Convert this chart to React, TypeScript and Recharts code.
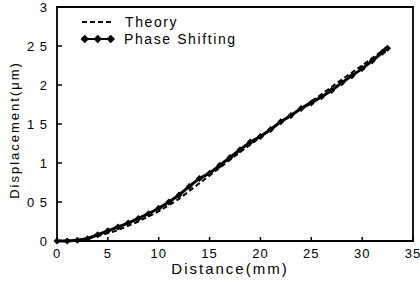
import {
  ComposedChart,
  Line,
  XAxis,
  YAxis,
  Legend,
} from 'recharts';

// distance (mm) / displacement (um)
const theoryX = [0, 2, 4, 6, 8, 10, 12, 14, 16, 18, 20, 22, 24, 26, 28, 30, 32, 32.5];
const theoryY = [0, 0.01, 0.06, 0.14, 0.25, 0.38, 0.54, 0.74, 0.94, 1.14, 1.33, 1.52, 1.7, 1.88, 2.07, 2.25, 2.44, 2.5];

const phaseX = [
  0, 1, 2, 3, 4, 5, 6, 7, 8, 9, 10, 11, 12, 13, 14, 15, 16,
  17, 18, 19, 20, 21, 22, 23, 24, 25, 26, 27, 28, 29, 30, 31, 32, 32.5,
];
const phaseY = [
  0, 0, 0.01, 0.03, 0.08, 0.13, 0.18, 0.23, 0.29, 0.35, 0.42, 0.5, 0.59, 0.7, 0.8, 0.87, 0.97,
  1.07, 1.17, 1.27, 1.34, 1.43, 1.53, 1.61, 1.7, 1.77, 1.85, 1.93, 2.03, 2.12, 2.21, 2.31, 2.42, 2.47,
];

const xTicks = [0, 5, 10, 15, 20, 25, 30, 35];
const yTicks = [0, 0.5, 1, 1.5, 2, 2.5, 3];
const X_MAX = 35;
const Y_MAX = 3;

const theoryData = theoryX.map((x, i) => ({ x, y: theoryY[i] }));
const phaseData = phaseX.map((x, i) => ({ x, y: phaseY[i] }));
// plot box, traced round the domain corners
const frameData = [
  { x: 0, y: 0 },
  { x: 0, y: Y_MAX },
  { x: X_MAX, y: Y_MAX },
  { x: X_MAX, y: 0 },
  { x: 0, y: 0 },
];

const FONT = '"Liberation Sans", Arial, sans-serif';

// the scan lost the decimal points: "0 5", "1 5", "2 5"
const fmt = (v: number) => String(v).replace('.', ' ');

function XTick(props: any) {
  const { x, y, payload } = props;
  return (
    <g>
      <rect x={x - 0.75} y={y - 4} width={1.5} height={4} fill="#000" />
      <text x={x} y={y + 17} textAnchor="middle" fontSize={13} fontFamily={FONT} letterSpacing={1} fill="#000">
        {fmt(payload.value)}
      </text>
    </g>
  );
}

function YTick(props: any) {
  const { x, y, payload } = props;
  return (
    <g>
      <rect x={x} y={y - 0.75} width={5} height={1.5} fill="#000" />
      <text x={x - 9} y={y + 4.5} textAnchor="end" fontSize={13} fontFamily={FONT} letterSpacing={1} fill="#000">
        {fmt(payload.value)}
      </text>
    </g>
  );
}

function Diamond(props: any) {
  const { cx, cy } = props;
  if (cx == null || cy == null) return null;
  const r = 3.5;
  return (
    <polygon
      points={`${cx},${cy - r} ${cx + r},${cy} ${cx},${cy + r} ${cx - r},${cy}`}
      fill="#000"
    />
  );
}

function LegendBox() {
  const row = { display: 'flex', alignItems: 'center', height: 17 } as const;
  const label = { fontFamily: FONT, fontSize: 14, letterSpacing: 1.6, marginLeft: 10, color: '#000' };
  const dash = { width: 5, height: 2, background: '#000', marginRight: 3 };
  const diamond = { width: 5.5, height: 5.5, background: '#000', transform: 'rotate(45deg)' };
  return (
    <div>
      <div style={row}>
        <div style={{ display: 'flex', width: 33, paddingLeft: 1 }}>
          {[0, 1, 2, 3].map(i => <div key={i} style={dash} />)}
        </div>
        <span style={label}>Theory</span>
      </div>
      <div style={row}>
        <div style={{ position: 'relative', width: 33, height: 10 }}>
          <div style={{ position: 'absolute', left: 4, right: 4, top: 4, height: 2.5, background: '#000' }} />
          <div style={{ position: 'absolute', left: 1, right: 1, top: 2, display: 'flex', justifyContent: 'space-between' }}>
            {[0, 1, 2].map(i => <div key={i} style={diamond} />)}
          </div>
        </div>
        <span style={label}>Phase Shifting</span>
      </div>
    </div>
  );
}

export default function App() {
  return (
    <div>
      <style>{'body { margin: 0; background: #fff; }'}</style>
      <ComposedChart width={420} height={282} margin={{ top: 7, right: 7, left: 0, bottom: 0 }}>
        <XAxis
          dataKey="x"
          type="number"
          domain={[0, X_MAX]}
          ticks={xTicks}
          interval={0}
          height={41}
          tickSize={0}
          tickMargin={0}
          tickLine={false}
          tick={<XTick />}
          axisLine={false}
        />
        <YAxis
          type="number"
          domain={[0, Y_MAX]}
          ticks={yTicks}
          interval={0}
          width={57}
          tickSize={0}
          tickMargin={0}
          tickLine={false}
          tick={<YTick />}
          axisLine={false}
        />
        <Legend
          layout="vertical"
          align="center"
          verticalAlign="middle"
          content={<LegendBox />}
          wrapperStyle={{ position: 'absolute', left: 81, top: 13, width: 200, height: 34 }}
        />
        <Line
          data={frameData}
          dataKey="y"
          name="frame"
          stroke="#000"
          strokeWidth={1.8}
          dot={false}
          legendType="none"
          isAnimationActive={false}
        />
        <Line
          data={theoryData}
          dataKey="y"
          name="Theory"
          stroke="#000"
          strokeWidth={2}
          strokeDasharray="5 3"
          dot={false}
          isAnimationActive={false}
        />
        <Line
          data={phaseData}
          dataKey="y"
          name="Phase Shifting"
          stroke="#000"
          strokeWidth={3}
          dot={<Diamond />}
          isAnimationActive={false}
        />
        <text x={230} y={274} textAnchor="middle" fontSize={15} fontFamily={FONT} letterSpacing={2} fill="#000">
          Distance(mm)
        </text>
        <text
          transform="translate(19,130) rotate(-90)"
          textAnchor="middle"
          fontSize={13}
          fontFamily={FONT}
          letterSpacing={2}
          fill="#000"
        >
          Displacement(μm)
        </text>
      </ComposedChart>
    </div>
  );
}
